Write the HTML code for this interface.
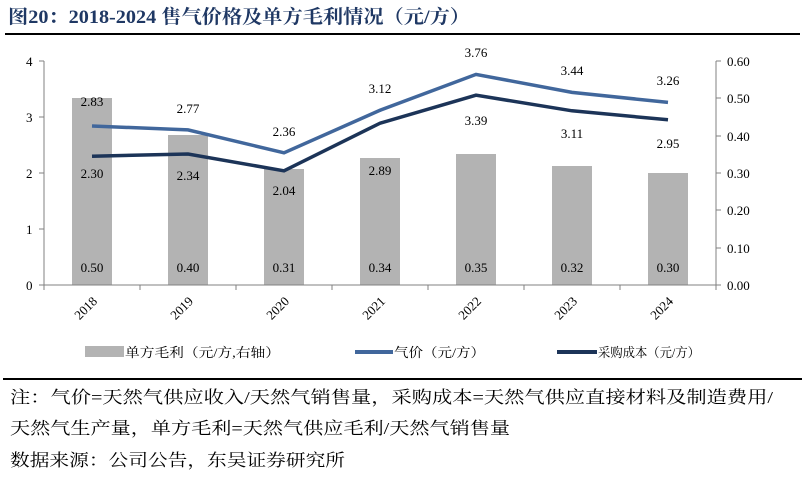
<!DOCTYPE html>
<html><head><meta charset="utf-8"><style>
body{margin:0;background:#fff;width:805px;height:474px;overflow:hidden;font-family:"Liberation Serif","Noto Serif CJK SC",serif}
</style></head><body>
<svg width="805" height="474" xmlns="http://www.w3.org/2000/svg" font-family="Liberation Serif, Noto Serif CJK SC, serif">
<text x="8" y="23" font-size="19" font-weight="bold" fill="#1f3864" textLength="462" lengthAdjust="spacingAndGlyphs">图20：2018-2024 售气价格及单方毛利情况（元/方）</text>
<line x1="5" y1="34" x2="800" y2="34" stroke="#000" stroke-width="2"/>
<g fill="#b3b3b3">
<rect x="72" y="98" width="40" height="187"/>
<rect x="168" y="135" width="40" height="150"/>
<rect x="264" y="169" width="40" height="116"/>
<rect x="360" y="158" width="40" height="127"/>
<rect x="456" y="154" width="40" height="131"/>
<rect x="552" y="166" width="40" height="119"/>
<rect x="648" y="173" width="40" height="112"/>
</g>
<g stroke="#808080" stroke-width="1" fill="none">
<path d="M44 61V285M39 61H44M39 117H44M39 173H44M39 229H44M39 285H44"/>
<path d="M716 61V285M716 61H721M716 98H721M716 136H721M716 173H721M716 210H721M716 248H721M716 285H721"/>
<path d="M44 285H716M140 285v5M236 285v5M332 285v5M428 285v5M524 285v5M620 285v5M44 285v5M716 285v5"/>
</g>
<g font-size="13" fill="#000">
<text x="26" y="66">4</text><text x="26" y="122">3</text><text x="26" y="178">2</text><text x="26" y="234">1</text><text x="26" y="290">0</text>
<text x="727" y="66">0.60</text><text x="727" y="103">0.50</text><text x="727" y="141">0.40</text><text x="727" y="178">0.30</text><text x="727" y="215">0.20</text><text x="727" y="253">0.10</text><text x="727" y="290">0.00</text>
</g>
<polyline fill="none" stroke="#41679c" stroke-width="3.5" points="92,126 188,129.9 284,152.8 380,110.3 476,74.4 572,92.4 668,102.4"/>
<polyline fill="none" stroke="#1c3458" stroke-width="3.5" points="92,156.2 188,154 284,170.8 380,123.2 476,95.2 572,110.8 668,119.8"/>
<g font-size="13" text-anchor="middle">
<text x="92" y="106">2.83</text><text x="188" y="113">2.77</text><text x="284" y="136">2.36</text><text x="380" y="93">3.12</text><text x="476" y="57">3.76</text><text x="572" y="75">3.44</text><text x="668" y="85">3.26</text>
<text x="92" y="178">2.30</text><text x="188" y="180">2.34</text><text x="284" y="195">2.04</text><text x="380" y="175">2.89</text><text x="476" y="125">3.39</text><text x="572" y="138">3.11</text><text x="668" y="148">2.95</text>
<text x="92" y="272">0.50</text><text x="188" y="272">0.40</text><text x="284" y="272">0.31</text><text x="380" y="272">0.34</text><text x="476" y="272">0.35</text><text x="572" y="272">0.32</text><text x="668" y="272">0.30</text>
</g>
<g font-size="13" text-anchor="end">
<text transform="translate(98,302) rotate(-45)">2018</text>
<text transform="translate(194,302) rotate(-45)">2019</text>
<text transform="translate(290,302) rotate(-45)">2020</text>
<text transform="translate(386,302) rotate(-45)">2021</text>
<text transform="translate(482,302) rotate(-45)">2022</text>
<text transform="translate(578,302) rotate(-45)">2023</text>
<text transform="translate(674,302) rotate(-45)">2024</text>
</g>
<rect x="85" y="346" width="39" height="11" fill="#b3b3b3"/>
<text x="125" y="357" font-size="13" textLength="155" lengthAdjust="spacingAndGlyphs">单方毛利（元/方,右轴）</text>
<line x1="355" y1="352" x2="393" y2="352" stroke="#41679c" stroke-width="4"/>
<text x="394" y="357" font-size="13" textLength="91" lengthAdjust="spacingAndGlyphs">气价（元/方）</text>
<line x1="557" y1="352" x2="597" y2="352" stroke="#1c3458" stroke-width="4"/>
<text x="598" y="357" font-size="13" textLength="102" lengthAdjust="spacingAndGlyphs">采购成本（元/方）</text>
<line x1="3" y1="379" x2="802" y2="379" stroke="#000" stroke-width="2"/>
<g font-size="17">
<text x="10" y="403" textLength="763" lengthAdjust="spacingAndGlyphs">注：气价=天然气供应收入/天然气销售量，采购成本=天然气供应直接材料及制造费用/</text>
<text x="10" y="434" textLength="500" lengthAdjust="spacingAndGlyphs">天然气生产量，单方毛利=天然气供应毛利/天然气销售量</text>
<text x="10" y="466" textLength="335" lengthAdjust="spacingAndGlyphs">数据来源：公司公告，东吴证券研究所</text>
</g>
</svg>
</body></html>
